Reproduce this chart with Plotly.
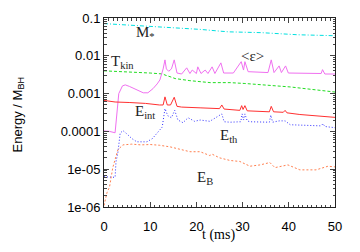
import plotly.graph_objects as go

# ---- data ----
t_mstar = [0, 6, 12, 20.8, 25, 27, 34, 42, 50]
v_mstar = [0.071, 0.065, 0.059, 0.050, 0.045, 0.043, 0.041, 0.036, 0.034]

t_tkin = [0, 5.6, 10, 12.8, 13.2, 14.3, 15.4, 18.6, 23, 27.3, 30.5, 40.3, 50]
v_tkin = [4.0e-3, 3.8e-3, 3.5e-3, 3.3e-3, 3.1e-3, 2.8e-3, 2.5e-3, 2.2e-3, 1.95e-3, 1.95e-3, 1.85e-3, 1.5e-3, 1.1e-3]

t_eps = [0, 1.2, 2.4, 2.8, 3.2, 4.0, 4.6, 5.5, 7, 8.5, 9.5, 10.6, 11.5, 12.1, 12.8, 13.2, 13.5, 14.0,
         14.6, 15.2, 15.8, 16.8, 17.9, 18.6, 19.1, 20, 20.3, 21, 21.9, 22.5, 23.4, 24, 25.3, 25.9,
         28, 29.7, 30.2, 30.5, 31.2, 35.5, 36.2, 36.8, 37.9, 38.4, 39.3, 39.9, 47, 47.3, 47.8, 50]
v_eps = [1.03e-4, 1.0e-4, 9.2e-5, 3.0e-4, 1.0e-3, 1.6e-3, 1.7e-3, 1.55e-3, 1.25e-3, 1.05e-3, 1.05e-3,
         1.35e-3, 1.8e-3, 2.3e-3, 4.5e-3, 7.8e-3, 4.5e-3, 3.9e-3,
         4.5e-3, 7.8e-3, 3.5e-3, 3.3e-3, 4.8e-3, 3.4e-3, 4.2e-3, 3.4e-3, 5.1e-3, 3.4e-3, 4.2e-3, 3.4e-3,
         5.1e-3, 3.4e-3, 6.5e-3, 3.5e-3,
         3.5e-3, 7.0e-3, 4.2e-3, 7.0e-3, 3.8e-3, 3.6e-3, 7.8e-3, 3.6e-3, 5.4e-3, 3.6e-3, 5.4e-3, 3.5e-3,
         3.4e-3, 4.3e-3, 3.3e-3, 3.3e-3]

t_eint = [0, 2.4, 5.6, 9, 12, 12.8, 13.2, 13.7, 14.4, 15.2, 15.8, 16.8, 20.8, 25, 25.5, 26, 29.4, 29.8,
          30.1, 30.5, 31, 35.8, 36.2, 36.7, 38.8, 39.2, 39.6, 42.4, 50]
v_eint = [6.6e-4, 6.0e-4, 5.8e-4, 5.5e-4, 5.0e-4, 5.0e-4, 8.2e-4, 5.0e-4, 5.0e-4, 8.0e-4, 4.6e-4, 4.4e-4,
          4.2e-4, 4.0e-4, 5.0e-4, 3.9e-4, 3.6e-4, 4.8e-4, 3.8e-4, 4.8e-4, 3.5e-4, 3.3e-4, 4.6e-4, 3.3e-4,
          3.2e-4, 3.6e-4, 3.1e-4, 2.8e-4, 2.35e-4]

t_eth = [0, 2.4, 2.6, 3.0, 3.5, 4.1, 5.0, 6, 7.1, 9.3, 10.5, 11.5, 12.6, 12.9, 13.2, 13.8, 14.6, 15.3,
         16.0, 17.1, 18.2, 19.6, 20.8, 22.9, 25.5, 26, 27.3, 29.6, 29.9, 30.2, 30.5, 31, 31.6, 35.8,
         36.1, 36.5, 37.9, 39.2, 40.3, 47, 47.4, 47.8, 50]
v_eth = [6.3e-6, 6.1e-6, 1.6e-5, 2.7e-5, 9.0e-5, 1.05e-4, 8.5e-5, 6.5e-5, 5.3e-5, 5.3e-5, 6.5e-5, 9.0e-5,
         1.3e-4, 2.3e-4, 4.0e-4, 2.6e-4, 2.3e-4, 3.6e-4,
         2.0e-4, 1.7e-4, 2.3e-4, 1.85e-4, 2.0e-4, 1.85e-4, 2.9e-4, 1.8e-4, 1.75e-4, 1.8e-4, 2.9e-4, 2.0e-4,
         2.9e-4, 1.9e-4, 1.8e-4, 1.75e-4,
         2.7e-4, 1.75e-4, 1.9e-4, 1.9e-4, 1.5e-4, 1.4e-4, 1.6e-4, 1.35e-4, 1.25e-4]

t_eb = [0, 0.65, 1.2, 1.9, 3.0, 4.1, 6, 8, 10, 12, 14.3, 16.5, 18.6, 20.8, 22.9, 23.4, 25, 27.3, 29.4,
        31.6, 33.8, 35.9, 37, 39.8, 42.4, 45.9, 48.5, 50]
v_eb = [1.1e-6, 2.4e-6, 3.4e-6, 1.1e-5, 3.25e-5, 4.4e-5, 4.6e-5, 4.4e-5, 4.5e-5, 4.3e-5, 3.9e-5, 3.4e-5,
        2.9e-5, 2.9e-5, 2.3e-5, 2.5e-5, 2.0e-5, 1.7e-5, 1.6e-5, 1.2e-5, 1.3e-5, 1.5e-5, 1.1e-5, 1.3e-5,
        9.6e-6, 9.6e-6, 1.2e-5, 1.15e-5]

y_tickvals = [1e-6, 1e-5, 1e-4, 1e-3, 1e-2, 1e-1]
y_ticktext = ["1e-06", "1e-05", "0.0001", "0.001", "0.01", "0.1"]
x_tickvals = [0, 10, 20, 30, 40, 50]

labels = [
    ("M<sub>*</sub>", 8.9, -1.40),
    ("T<sub>kin</sub>", 3.9, -2.17),
    ("&lt;ε&gt;", 32.2, -2.0),
    ("E<sub>int</sub>", 8.9, -3.49),
    ("E<sub>th</sub>", 27.0, -4.13),
    ("E<sub>B</sub>", 21.9, -5.22),
]

fig = go.Figure()
series = [
    (t_mstar, v_mstar, "#00e0e0", "4px,2px,1px,2px"),
    (t_tkin, v_tkin, "#22dd22", "3px,2px"),
    (t_eps, v_eps, "#f070f0", "solid"),
    (t_eint, v_eint, "#ff3030", "solid"),
    (t_eth, v_eth, "#3030ff", "1px,2px"),
    (t_eb, v_eb, "#ff8050", "2px,2px"),
]
for tx, vy, col, dash in series:
    fig.add_trace(go.Scatter(x=tx, y=vy, mode="lines", line=dict(color=col, width=1, dash=dash),
                             showlegend=False))

for txt, xx, yy in labels:
    fig.add_annotation(x=xx, y=yy, text=txt, showarrow=False, xref="x", yref="y",
                       font=dict(family="Liberation Serif", size=15, color="#222"))

# axis titles as annotations for exact placement
fig.add_annotation(x=-0.372, y=0.49, xref="paper", yref="paper", text="Energy / M<sub>BH</sub>",
                   textangle=-90, showarrow=False, xanchor="center", yanchor="middle",
                   font=dict(family="Liberation Sans", size=13, color="black"))
fig.add_annotation(x=0.494, y=-0.148, xref="paper", yref="paper", text="t (ms)",
                   showarrow=False, xanchor="center", yanchor="middle",
                   font=dict(family="Liberation Serif", size=14, color="black"))

minor_y = [m * 10 ** e for e in range(-6, -1) for m in range(2, 10)]

# page body adds an 8px margin on every side; size figure to fit the window exactly
fig.update_layout(
    width=344, height=236,
    margin=dict(l=96, r=17, t=10, b=37, autoexpand=False),
    paper_bgcolor="white", plot_bgcolor="white",
    font=dict(family="Liberation Sans", size=13, color="black"),
    xaxis=dict(range=[0, 50], tickvals=x_tickvals, ticks="inside", ticklen=5, tickwidth=1,
               showline=True, linecolor="#222", linewidth=1, mirror="ticks", showgrid=False,
               zeroline=False, ticklabelstandoff=7, automargin=False,
               minor=dict(dtick=1, ticks="inside", ticklen=2.5, showgrid=False)),
    yaxis=dict(type="log", range=[-6, -1], tickvals=y_tickvals, ticktext=y_ticktext,
               ticks="inside", ticklen=5, tickwidth=1, showline=True, linecolor="#222", linewidth=1,
               mirror="ticks", showgrid=False, zeroline=False, automargin=False,
               minor=dict(tickvals=minor_y, ticks="inside", ticklen=2.5, showgrid=False)),
)

fig.write_html("out.html")
